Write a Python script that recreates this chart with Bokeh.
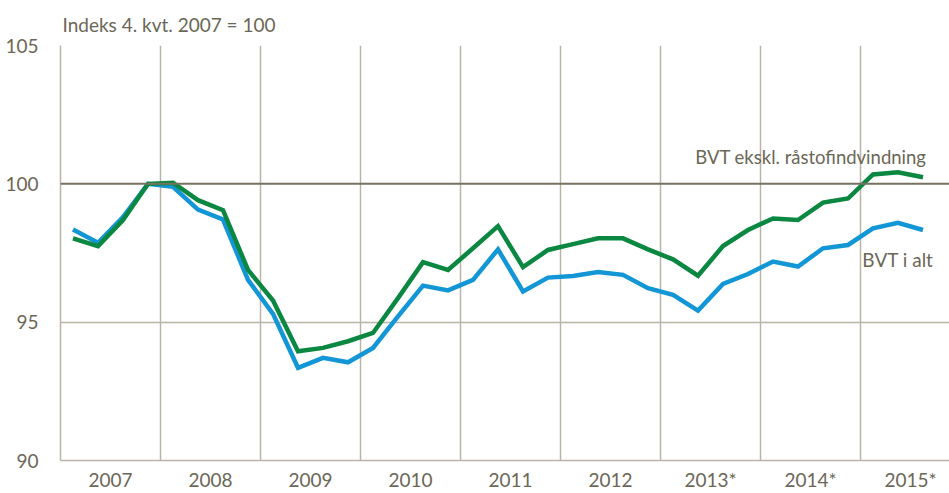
from bokeh.plotting import figure
from bokeh.models import Range1d, FixedTicker, Span, Label, ColumnDataSource
from bokeh.embed import file_html
from bokeh.resources import INLINE

# Quarterly index, 4th quarter 2007 = 100 (2007Q1 .. 2015Q3)
years = [2007, 2008, 2009, 2010, 2011, 2012, 2013, 2014, 2015]
year_labels = ["2007", "2008", "2009", "2010", "2011", "2012", "2013*", "2014*", "2015*"]
quarter_index = list(range(35))

bvt_i_alt = [98.35, 97.87, 98.8, 100.0,
             99.89, 99.07, 98.71, 96.53,
             95.3, 93.35, 93.71, 93.55,
             94.07, 95.21, 96.32, 96.15,
             96.53, 97.63, 96.11, 96.61,
             96.67, 96.81, 96.71, 96.23,
             95.99, 95.42, 96.38, 96.74,
             97.19, 97.01, 97.67, 97.79,
             98.39, 98.59, 98.33]

bvt_ekskl = [98.03, 97.75, 98.69, 100.0,
             100.04, 99.41, 99.05, 96.89,
             95.78, 93.95, 94.07, 94.31,
             94.61, 95.87, 97.17, 96.89,
             97.67, 98.47, 96.99, 97.61,
             97.82, 98.03, 98.03, 97.63,
             97.27, 96.68, 97.75, 98.33,
             98.75, 98.69, 99.32, 99.47,
             100.34, 100.42, 100.24]

y_ticks = [90, 95, 100, 105]
title_text = "Indeks 4. kvt. 2007 = 100"
label_ekskl = "BVT ekskl. råstofindvindning"
label_alt = "BVT i alt"

FONT = "Lato"
TXT = "#6b6757"
GRID = "#b8b4a6"
BLUE = "#1296d6"
GREEN = "#0a8740"

xs = [years[0] + (i + 0.5) / 4 for i in quarter_index]
src = ColumnDataSource(dict(x=xs, alt=bvt_i_alt, ekskl=bvt_ekskl))

W, H = 949, 493
LEFT, TOP, BOTTOM = 60, 45, 32
p = figure(width=W, height=H, output_backend="svg", toolbar_location=None,
           x_range=Range1d(2007, 2007 + (W - LEFT) / 100), y_range=Range1d(90, 105),
           min_border_left=LEFT, min_border_right=0, min_border_top=TOP,
           min_border_bottom=BOTTOM)
p.outline_line_color = None
p.background_fill_color = "white"
p.border_fill_color = "white"

p.title.text = title_text
p.title.align = "left"
p.title.offset = 2
p.title.standoff = 19
p.title.text_font = FONT
p.title.text_font_size = "19px"
p.title.text_font_style = "normal"
p.title.text_color = TXT

# axes
p.xaxis.ticker = FixedTicker(ticks=[y + 0.5 for y in years])
p.xaxis.major_label_overrides = {y + 0.5: l for y, l in zip(years, year_labels)}
p.xaxis.major_tick_line_color = None
p.xaxis.minor_tick_line_color = None
p.xaxis.axis_line_color = GRID
p.xaxis.axis_line_width = 1.5
p.xaxis.major_label_standoff = 1
p.xaxis.major_label_text_font = FONT
p.xaxis.major_label_text_font_size = "19px"
p.xaxis.major_label_text_color = TXT

p.yaxis.ticker = FixedTicker(ticks=y_ticks)
p.yaxis.major_tick_line_color = None
p.yaxis.minor_tick_line_color = None
p.yaxis.axis_line_color = GRID
p.yaxis.axis_line_width = 1.5
p.yaxis.major_label_standoff = 16
p.yaxis.major_label_text_font = FONT
p.yaxis.major_label_text_font_size = "19px"
p.yaxis.major_label_text_color = TXT

# grids
p.xgrid.ticker = FixedTicker(ticks=years)
p.xgrid.grid_line_color = GRID
p.xgrid.grid_line_width = 1.5
p.ygrid.ticker = FixedTicker(ticks=[95, 105])
p.ygrid.grid_line_color = GRID
p.ygrid.grid_line_width = 1.5

p.add_layout(Span(location=100, dimension="width", line_color="#77725f", line_width=2))

p.line("x", "alt", source=src, line_color=BLUE, line_width=4.5, line_join="miter")
p.line("x", "ekskl", source=src, line_color=GREEN, line_width=4.5, line_join="miter")

p.add_layout(Label(x=2015.66, y=100.97, text=label_ekskl, text_font=FONT,
                   text_font_size="18.5px", text_color=TXT, text_align="right",
                   text_baseline="alphabetic"))
p.add_layout(Label(x=2015.73, y=97.26, text=label_alt, text_font=FONT,
                   text_font_size="19px", text_color=TXT, text_align="right",
                   text_baseline="alphabetic"))

open("out.html", "w").write(file_html(p, INLINE))
